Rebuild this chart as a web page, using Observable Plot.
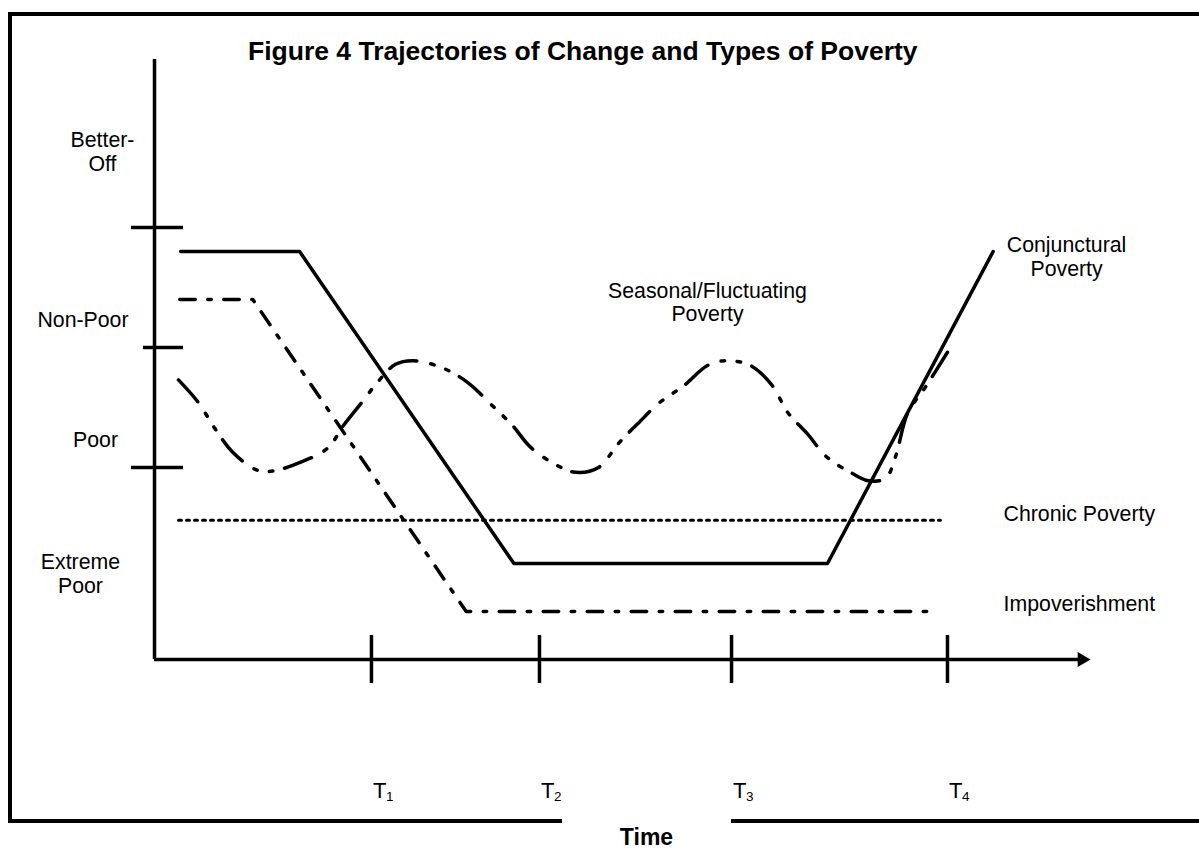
<!DOCTYPE html>
<html>
<head>
<meta charset="utf-8">
<script src="https://cdn.jsdelivr.net/npm/d3@7"></script>
<script src="https://cdn.jsdelivr.net/npm/@observablehq/plot@0.6"></script>
<style>
  html, body { margin: 0; padding: 0; background: white; }
  #wrap { position: relative; width: 1199px; height: 848px; overflow: hidden; font-family: "Liberation Sans", Arial, sans-serif; }
  #border { position: absolute; left: 8.3px; top: 11.7px; width: 1400px; height: 811px; border: 4px solid black; box-sizing: border-box; }
  #chart { position: absolute; left: 0; top: 0; }
  #title { position: absolute; left: 248px; top: 37.5px; font-size: 26.5px; line-height: 26.5px; font-weight: bold; white-space: nowrap; }
  #gap { position: absolute; left: 562px; top: 816px; width: 169px; height: 10px; background: white; }
  #xlabel { position: absolute; left: 562px; width: 169px; top: 825.5px; font-size: 23px; line-height: 23px; font-weight: bold; text-align: center; }
</style>
</head>
<body>
<div id="wrap">
  <div id="border"></div>
  <div id="chart"></div>
  <div id="title">Figure 4 Trajectories of Change and Types of Poverty</div>
  <div id="gap"></div>
  <div id="xlabel">Time</div>
</div>
<script>
// ---- data (x = time units, y = well-being level) ----
const levelBounds = [1, 2, 3];
const levelNames = ["Better-\nOff", "Non-Poor", "Poor", "Extreme\nPoor"];
const timeTicks = [23.18, 41.13, 61.65, 84.72];
const timeSubs = ["1", "2", "3", "4"];

const conjT = [2.8, 15.5, 38.4, 71.9, 89.6];
const conjW = [2.8, 2.8, 0.2, 0.2, 2.8];

const impT = [2.7, 10.5, 33.3, 83.7];
const impW = [2.4, 2.4, -0.2, -0.2];

const chronT = [2.56, 83.97];
const chronW = [0.56, 0.56];

const seasT = [2.56,4.70,6.41,8.33,10.90,12.61,15.49,18.48,20.19,22.33,23.82,25.75,27.67,30.77,33.44,35.90,38.25,40.17,42.95,44.98,47.44,49.57,51.82,53.95,56.52,59.08,61.0,63.68,66.03,67.63,69.76,71.79,74.57,76.28,78.10,79.17,80.45,82.37,84.72];
const seasW = [1.73,1.54,1.33,1.13,0.98,0.97,1.04,1.16,1.35,1.56,1.71,1.86,1.89,1.83,1.71,1.53,1.35,1.17,1.02,0.96,1.00,1.20,1.38,1.54,1.68,1.85,1.89,1.85,1.68,1.46,1.28,1.09,0.95,0.89,0.91,1.09,1.45,1.67,1.96];

const curveNames = ["Seasonal/Fluctuating\nPoverty", "Conjunctural\nPoverty"];
const lineNames = ["Chronic Poverty", "Impoverishment"];

// ---- annotation placement (data units) ----
const levelLabelX = [-5.56, -7.64, -6.30, -7.91];
const levelLabelY = [3.475, 2.175, 1.167, -0.042];
const curveLabelX = [59.08, 97.44];
const curveLabelY = [2.217, 2.6];
const lineLabelX = [90.71, 90.71];
const lineLabelY = [0.558, -0.197];

const pts = (T, W) => T.map((t, i) => ({t, w: W[i]}));
const conj = pts(conjT, conjW);
const imp = pts(impT, impW);
const chron = pts(chronT, chronW);
const seas = pts(seasT, seasW);
const levelLabels = levelNames.map((name, i) => ({name, x: levelLabelX[i], y: levelLabelY[i]}));
const curveLabels = curveNames.map((name, i) => ({name, x: curveLabelX[i], y: curveLabelY[i]}));
const lineLabels = lineNames.map((name, i) => ({name, x: lineLabelX[i], y: lineLabelY[i]}));
const ticks = timeTicks.map((t, i) => ({t, s: timeSubs[i]}));

const font = "Liberation Sans, Arial, sans-serif";
const lw = 3.5;

const chart = Plot.plot({
  width: 1199,
  height: 848,
  margin: 0,
  x: {domain: [0, 100], range: [154, 1090], axis: null},
  y: {domain: [-0.6, 4.4], range: [659, 59], axis: null},
  style: {background: "transparent", fontFamily: font, overflow: "visible"},
  marks: [
    // axes
    Plot.ruleX([0], {y1: -0.6, y2: 4.4, stroke: "black", strokeWidth: 3.5}),
    Plot.ruleY([-0.6], {x1: 0, x2: 98.8, stroke: "black", strokeWidth: 3.5}),
    Plot.dot([0], {x: 99.09, y: -0.6, symbol: "triangle", r: 5.5, rotate: 90, fill: "black", stroke: "none"}),
    Plot.ruleY([levelBounds[0], levelBounds[2]], {x1: -2.46, x2: 3.1, stroke: "black", strokeWidth: 3.5}),
    Plot.ruleY([levelBounds[1]], {x1: -1.18, x2: 3.1, stroke: "black", strokeWidth: 3.5}),
    Plot.ruleX(timeTicks, {y1: -0.4, y2: -0.8, stroke: "black", strokeWidth: 3.5}),
    // series
    Plot.line(chron, {x: "t", y: "w", stroke: "black", strokeWidth: 3, strokeDasharray: "3,5"}),
    Plot.line(imp, {x: "t", y: "w", stroke: "black", strokeWidth: lw, strokeDasharray: "15.5,12.5,3.5,12.5"}),
    Plot.line(seas, {x: "t", y: "w", curve: "catmull-rom", stroke: "black", strokeWidth: lw, strokeDasharray: "29,14,3.5,12.5,3.5,12"}),
    Plot.line(conj, {x: "t", y: "w", stroke: "black", strokeWidth: lw}),
    // labels
    Plot.text(levelLabels, {x: "x", y: "y", text: "name", textAnchor: "middle", lineAnchor: "bottom", lineHeight: 1.1, fontSize: 21.3, fill: "black"}),
    Plot.text(curveLabels, {x: "x", y: "y", text: "name", textAnchor: "middle", lineAnchor: "bottom", lineHeight: 1.1, fontSize: 21.3, fill: "black"}),
    Plot.text(lineLabels, {x: "x", y: "y", text: "name", textAnchor: "start", lineAnchor: "bottom", fontSize: 21.3, fill: "black"}),
    Plot.text(ticks, {x: "t", y: -1.75, text: () => "T", textAnchor: "start", lineAnchor: "bottom", dx: 1.5, fontSize: 22, fill: "black"}),
    Plot.text(ticks, {x: "t", y: -1.75, text: "s", textAnchor: "start", lineAnchor: "bottom", dx: 14.5, dy: 3, fontSize: 13.5, fill: "black"})
  ]
});
document.getElementById("chart").appendChild(chart);
</script>
</body>
</html>
